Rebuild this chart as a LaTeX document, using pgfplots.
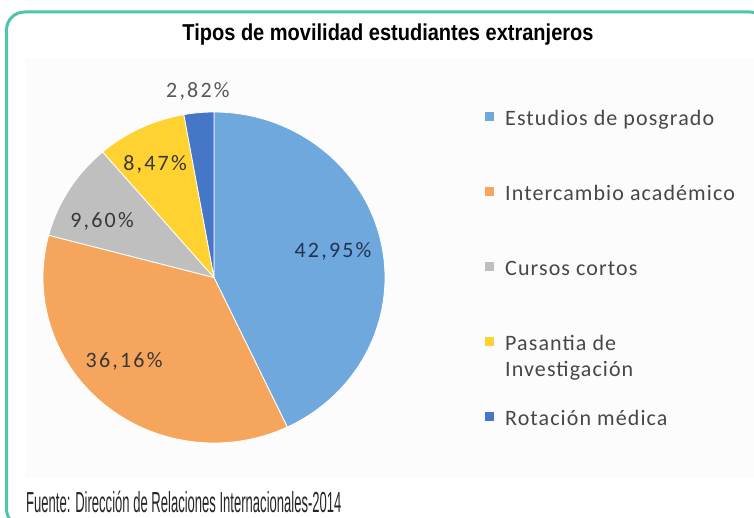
\documentclass[border=0pt]{standalone}
\usepackage{pgfplots}
\usepackage{pgfplotstable}
\pgfplotsset{compat=1.18}
\usepackage{fontspec}
\setmainfont{Carlito}
\newfontfamily\titlefont[FakeStretch=0.87]{Liberation Sans}
\newfontfamily\footfont[FakeStretch=0.45]{Liberation Sans}
\newfontfamily\labfont[LetterSpace=10]{Carlito}
\newfontfamily\legfont[LetterSpace=5]{Carlito}

\definecolor{cA}{RGB}{111,168,220}
\definecolor{cB}{RGB}{246,166,92}
\definecolor{cC}{RGB}{191,191,191}
\definecolor{cD}{RGB}{255,210,50}
\definecolor{cE}{RGB}{70,118,198}
\definecolor{frame}{RGB}{77,197,174}
\definecolor{labnavy}{RGB}{32,52,84}
\definecolor{labgray}{RGB}{56,56,56}

\pgfplotstableread{
idx value
0 42.95
1 36.16
2 9.60
3 8.47
4 2.82
}\piedata

\begin{document}
\begin{tikzpicture}[x=1pt,y=1pt]
\pgfplotstablegetelem{0}{value}\of\piedata \let\vA\pgfplotsretval
\pgfplotstablegetelem{1}{value}\of\piedata \let\vB\pgfplotsretval
\pgfplotstablegetelem{2}{value}\of\piedata \let\vC\pgfplotsretval
\pgfplotstablegetelem{3}{value}\of\piedata \let\vD\pgfplotsretval
\pgfplotstablegetelem{4}{value}\of\piedata \let\vE\pgfplotsretval
\pgfmathsetmacro\aA{90}
\pgfmathsetmacro\aB{\aA-3.6*\vA}
\pgfmathsetmacro\aC{\aB-3.6*\vB}
\pgfmathsetmacro\aD{\aC-3.6*\vC}
\pgfmathsetmacro\aE{\aD-3.6*\vD}
\pgfmathsetmacro\aF{\aE-3.6*\vE}

\path[use as bounding box] (0,0) rectangle (754,517);
\clip (0,0) rectangle (754,517);
\fill[white] (0,0) rectangle (754,517);
\fill[black!1.2] (25,39) rectangle (754,459);
\draw[frame, line width=3pt, rounded corners=18pt] (6.5,505) rectangle (768,-10);

\node[font=\titlefont\bfseries\fontsize{23}{27}\selectfont, anchor=center] at (388,482) {Tipos de movilidad estudiantes extranjeros};
\node[font=\footfont\fontsize{29}{33}\selectfont, text=black!85, anchor=base west, inner sep=0pt] at (26,5) {Fuente: Dirección de Relaciones Internacionales-2014};

\begin{axis}[
  at={(43pt,74pt)}, anchor=south west,
  scale only axis, width=342pt, height=331pt,
  xmin=-1, xmax=1, ymin=-1, ymax=1,
  hide axis, clip=false,
  legend image code/.code={\fill[#1,draw=none] (0pt,-1pt) rectangle (9pt,8pt);},
  legend cell align=left,
  legend style={at={(rel axis cs:1.2924,1.006)}, anchor=north west,
    draw=none, fill=none, inner sep=0pt, row sep=55pt, column sep=11pt,
    font=\legfont\fontsize{22}{28}\selectfont, text=black!72,
    nodes={inner sep=0pt, text height=15pt, text depth=5pt}},
]
\addplot[fill=cA, draw=white, line width=0.8pt, domain=\aA:\aB, samples=120, variable=\t] ({cos(\t)},{sin(\t)}) -- (axis cs:0,0) -- cycle;
\addlegendentry{Estudios de posgrado}
\addplot[fill=cB, draw=white, line width=0.8pt, domain=\aB:\aC, samples=100, variable=\t] ({cos(\t)},{sin(\t)}) -- (axis cs:0,0) -- cycle;
\addlegendentry{Intercambio académico}
\addplot[fill=cC, draw=white, line width=0.8pt, domain=\aC:\aD, samples=40, variable=\t] ({cos(\t)},{sin(\t)}) -- (axis cs:0,0) -- cycle;
\addlegendentry{Cursos cortos}
\addplot[fill=cD, draw=white, line width=0.8pt, domain=\aD:\aE, samples=40, variable=\t] ({cos(\t)},{sin(\t)}) -- (axis cs:0,0) -- cycle;
\addlegendentry{\parbox[t]{6cm}{Pasantia de\\[-2pt]Investigación}}
\addplot[fill=cE, draw=white, line width=0.8pt, domain=\aE:\aF, samples=20, variable=\t] ({cos(\t)},{sin(\t)}) -- (axis cs:0,0) -- cycle;
\addlegendentry{Rotación médica}

\node[font=\labfont\fontsize{22}{26}\selectfont, text=black!65] at (axis cs:-0.094,1.127) {2,82\%};
\node[font=\labfont\fontsize{22}{26}\selectfont, text=labgray] at (axis cs:-0.345,0.681) {8,47\%};
\node[font=\labfont\fontsize{22}{26}\selectfont, text=labgray] at (axis cs:-0.655,0.337) {9,60\%};
\node[font=\labfont\fontsize{22}{26}\selectfont, text=labnavy] at (axis cs:0.696,0.157) {42,95\%};
\node[font=\labfont\fontsize{22}{26}\selectfont, text=labgray] at (axis cs:-0.526,-0.506) {36,16\%};
\end{axis}
\end{tikzpicture}
\end{document}
